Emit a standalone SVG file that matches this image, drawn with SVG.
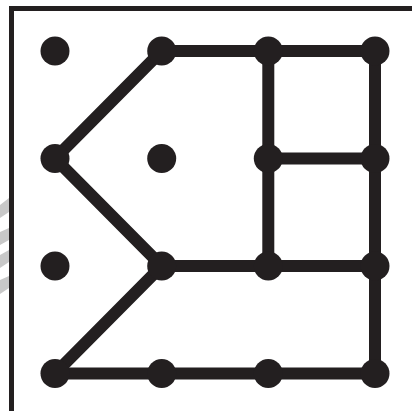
<svg xmlns="http://www.w3.org/2000/svg" width="412" height="411" viewBox="0 0 412 411">
<style>
.edge{stroke:#231f20;stroke-width:12;stroke-linecap:round;fill:none}
.dot{fill:#231f20}
.wm{fill:#c8c8c8}
</style>
<defs><circle id="d" r="14.5" class="dot"/></defs>
<rect width="412" height="411" fill="#fff"/>
<g id="watermark">
<polygon class="wm" points="0,205 9,198 9,212 0,218"/>
<polygon class="wm" points="0,232 9,228 9,240 0,245"/>
<polygon class="wm" points="0,255 9,250 9,262 0,268"/>
<polygon class="wm" points="0,280 9,276 9,288 0,294"/>
</g>
<path id="frame" d="M11.5,412 V8.5 H414" fill="none" stroke="#231f20" stroke-width="5"/>
<g id="connectors">
<line class="edge" x1="161.7" y1="51" x2="375" y2="51"/>
<line class="edge" x1="161.7" y1="51" x2="55" y2="158.5"/>
<line class="edge" x1="55" y1="158.5" x2="161.7" y2="266"/>
<line class="edge" x1="161.7" y1="266" x2="55" y2="373.5"/>
<line class="edge" x1="268.3" y1="51" x2="268.3" y2="266"/>
<line class="edge" x1="375" y1="51" x2="375" y2="373.5"/>
<line class="edge" x1="268.3" y1="158.5" x2="375" y2="158.5"/>
<line class="edge" x1="161.7" y1="266" x2="375" y2="266"/>
<line class="edge" x1="55" y1="373.5" x2="375" y2="373.5"/>
</g>
<g id="n00"><use href="#d" x="55" y="51"/></g>
<g id="n10"><use href="#d" x="161.7" y="51"/></g>
<g id="n20"><use href="#d" x="268.3" y="51"/></g>
<g id="n30"><use href="#d" x="375" y="51"/></g>
<g id="n01"><use href="#d" x="55" y="158.5"/></g>
<g id="n11"><use href="#d" x="161.7" y="158.5"/></g>
<g id="n21"><use href="#d" x="268.3" y="158.5"/></g>
<g id="n31"><use href="#d" x="375" y="158.5"/></g>
<g id="n02"><use href="#d" x="55" y="266"/></g>
<g id="n12"><use href="#d" x="161.7" y="266"/></g>
<g id="n22"><use href="#d" x="268.3" y="266"/></g>
<g id="n32"><use href="#d" x="375" y="266"/></g>
<g id="n03"><use href="#d" x="55" y="373.5"/></g>
<g id="n13"><use href="#d" x="161.7" y="373.5"/></g>
<g id="n23"><use href="#d" x="268.3" y="373.5"/></g>
<g id="n33"><use href="#d" x="375" y="373.5"/></g>
</svg>
